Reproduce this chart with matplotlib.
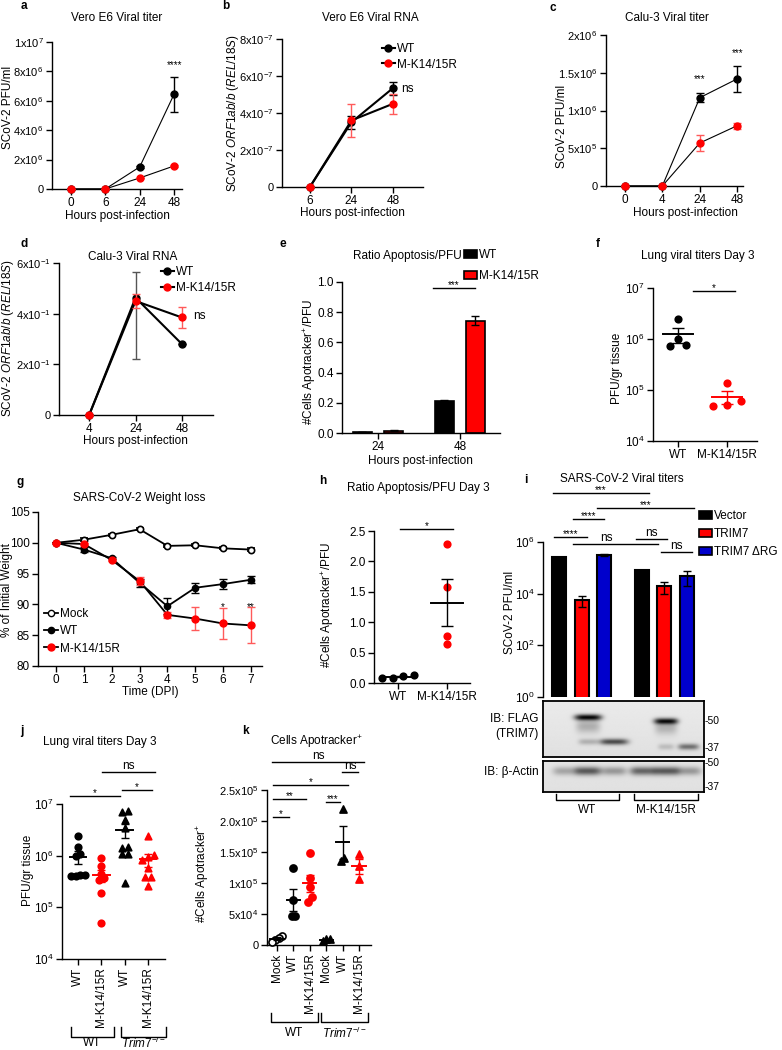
import numpy as np
import matplotlib
matplotlib.use("Agg")
import matplotlib.pyplot as plt
from matplotlib.patches import Patch
from matplotlib.lines import Line2D

plt.rcParams['font.family'] = ['Liberation Sans', 'DejaVu Sans']
plt.rcParams['mathtext.fontset'] = 'custom'
plt.rcParams['mathtext.rm'] = 'Liberation Sans'
plt.rcParams['mathtext.it'] = 'Liberation Sans:italic'
plt.rcParams['mathtext.bf'] = 'Liberation Sans:bold'
plt.rcParams['font.size'] = 8.5
plt.rcParams['axes.linewidth'] = 1.0

W, H = 782, 1050
FS = 8.5
SCI_FS = 8
RED = '#ff0000'
ERR_RED = '#ff5a5a'
BLUE = '#0000cc'

# ---- a: Vero E6 viral titer
a_hours = ['0', '6', '24', '48']
a_wt = [0, 0, 1.5e6, 6.45e6]
a_wt_err = [0, 0, 0.05e6, 1.2e6]
a_mk = [0, 0, 0.75e6, 1.57e6]
a_mk_err = [0, 0, 0.03e6, 0.05e6]
a_yticks = [0, 2e6, 4e6, 6e6, 8e6, 1e7]
a_yticklabels = ['0', '2x10$^{6}$', '4x10$^{6}$', '6x10$^{6}$', '8x10$^{6}$', '1x10$^{7}$']

# ---- b: Vero E6 viral RNA
b_hours = ['6', '24', '48']
b_wt = [0, 3.5e-7, 5.35e-7]
b_wt_err = [0, 0.35e-7, 0.35e-7]
b_mk = [0, 3.6e-7, 4.5e-7]
b_mk_err = [0, 0.9e-7, 0.55e-7]
b_yticks = [0, 2e-7, 4e-7, 6e-7, 8e-7]
b_yticklabels = ['0', '2x10$^{-7}$', '4x10$^{-7}$', '6x10$^{-7}$', '8x10$^{-7}$']

# ---- c: Calu-3 viral titer
c_hours = ['0', '4', '24', '48']
c_wt = [0, 0, 1.17e6, 1.42e6]
c_wt_err = [0, 0, 0.06e6, 0.17e6]
c_mk = [0, 0, 0.57e6, 0.80e6]
c_mk_err = [0, 0, 0.10e6, 0.04e6]
c_yticks = [0, 5e5, 1e6, 1.5e6, 2e6]
c_yticklabels = ['0', '5x10$^{5}$', '1x10$^{6}$', '1.5x10$^{6}$', '2x10$^{6}$']

# ---- d: Calu-3 viral RNA
d_hours = ['4', '24', '48']
d_wt = [0, 0.463, 0.28]
d_wt_err_low = [0, 0.24, 0]
d_wt_err_high = [0, 0.10, 0]
d_mk = [0, 0.45, 0.385]
d_mk_err = [0, 0.027, 0.04]
d_yticks = [0, 0.2, 0.4, 0.6]
d_yticklabels = ['0', '2x10$^{-1}$', '4x10$^{-1}$', '6x10$^{-1}$']

# ---- e: ratio apoptosis / PFU
e_hours = ['24', '48']
e_wt = [0.005, 0.215]
e_wt_err = [0.001, 0.004]
e_mk = [0.015, 0.745]
e_mk_err = [0.003, 0.03]

# ---- f: lung viral titers day 3
f_groups = ['WT', 'M-K14/15R']
f_wt = [2.5e6, 1.0e6, 7.5e5, 7.3e5]
f_mk = [1.4e5, 6.0e4, 5.0e4, 4.8e4]

# ---- g: weight loss
g_days = [0, 1, 2, 3, 4, 5, 6, 7]
g_mock = [100, 100.5, 101.3, 102.2, 99.5, 99.6, 99.1, 98.9]
g_mock_err = [0, 0.2, 0.15, 0.15, 0.2, 0.15, 0.15, 0.2]
g_wt = [100, 98.9, 97.5, 93.5, 89.7, 92.7, 93.3, 94.0]
g_wt_err = [0, 0.4, 0.2, 0.7, 1.3, 0.8, 0.8, 0.6]
g_mk = [100, 99.8, 97.2, 93.8, 88.3, 87.7, 86.9, 86.6]
g_mk_err = [0, 0.2, 0.2, 0.6, 0.5, 1.8, 2.5, 2.9]

# ---- h: ratio apoptosis / PFU day 3
h_groups = ['WT', 'M-K14/15R']
h_wt = [0.13, 0.11, 0.09, 0.08]
h_mk = [2.29, 1.58, 0.77, 0.64]

# ---- i: SARS-CoV-2 viral titers with TRIM7
i_conditions = ['Vector', 'TRIM7', 'TRIM7 ΔRG']
i_wt = [2.6e5, 5.5e3, 3.2e5]
i_wt_err = [0.1e5, 2.5e3, 0.3e5]
i_mk = [7.9e4, 1.9e4, 4.8e4]
i_mk_err = [0.3e4, 0.9e4, 2.8e4]

# blot band intensities (lanes: WT vec, TRIM7, dRG, MK vec, TRIM7, dRG)
blot_lanes = [0.14, 0.28, 0.44, 0.62, 0.765, 0.905]
flag_band_lane = [1, 4, 2, 5, 1, 4]
flag_band_row = [0.29, 0.36, 0.73, 0.82, 0.73, 0.82]
flag_band_dark = [0.85, 0.8, 0.6, 0.45, 0.2, 0.15]
flag_band_half = [0.085, 0.075, 0.09, 0.065, 0.06, 0.05]
actin_dark = [0.25, 0.55, 0.3, 0.5, 0.55, 0.3]

# ---- j: lung viral titers, WT vs Trim7-/- mice
j_labels = ['WT', 'M-K14/15R', 'WT', 'M-K14/15R']
j_wt_wt = [2.4e6, 1.5e6, 1.1e6, 1.0e6, 4.2e5, 4.1e5, 4.1e5, 4.2e5]
j_wt_mk = [8.9e5, 6.2e5, 4.5e5, 3.7e5, 3.4e5, 1.9e5, 4.9e4]
j_ko_wt = [7.4e6, 6.9e6, 5.0e6, 3.4e6, 1.5e6, 1.4e6, 1.1e6, 1.1e6, 2.9e5]
j_ko_mk = [2.4e6, 1.04e6, 9.4e5, 8.3e5, 5.7e5, 3.8e5, 3.8e5, 2.6e5]

# ---- k: cells apotracker+
k_labels = ['Mock', 'WT', 'M-K14/15R', 'Mock', 'WT', 'M-K14/15R']
k_wt_mock = [1.5e4, 1.2e4, 0.8e4, 0.5e4]
k_wt_wt = [1.24e5, 7.3e4, 4.6e4, 4.7e4]
k_wt_mk = [1.48e5, 1.08e5, 9.3e4, 7.8e4, 7.0e4]
k_ko_mock = [1.0e4, 0.9e4, 0.7e4]
k_ko_wt = [2.19e5, 1.41e5, 1.36e5]
k_ko_mk = [1.47e5, 1.28e5, 1.06e5]
k_yticks = [0, 5e4, 1e5, 1.5e5, 2e5, 2.5e5]
k_yticklabels = ['0', '5x10$^{4}$', '1x10$^{5}$', '1.5x10$^{5}$', '2.0x10$^{5}$', '2.5x10$^{5}$']


fig = plt.figure(figsize=(W / 100, H / 100), dpi=100)


def add_ax(l, t, r, b):
    ax = fig.add_axes([l / W, 1 - b / H, (r - l) / W, (b - t) / H])
    ax.spines[['top', 'right']].set_visible(False)
    ax.tick_params(labelsize=FS, length=4, width=1, pad=2)
    return ax


def ftext(x, y, s, **kw):
    kw.setdefault('ha', 'center')
    kw.setdefault('va', 'center')
    kw.setdefault('fontsize', FS)
    fig.text(x / W, 1 - y / H, s, **kw)


def fline(xs, ys, lw=1.0):
    fig.add_artist(Line2D([x / W for x in xs], [1 - y / H for y in ys], color='black', lw=lw))


def bracket(x0, x1, ytop, ybot, label, ylab):
    fline([x0, x0, x1, x1], [ytop, ybot, ybot, ytop])
    ftext((x0 + x1) / 2, ylab, label)


def noclip(cont):
    for art in cont.get_children():
        art.set_clip_on(False)


def sig(ax, x0, x1, y, label, size=7, off=-1.5):
    ax.plot([x0, x1], [y, y], color='black', lw=1, clip_on=False)
    ax.annotate(label, xy=((x0 + x1) / 2, y), xytext=(0, off), textcoords='offset points',
                ha='center', va='bottom', fontsize=size, annotation_clip=False)


def line_series(ax, x, wt, wt_err, mk, mk_err, lw):
    ax.plot(x, wt, color='black', lw=lw, zorder=2, clip_on=False)
    ax.plot(x, mk, color='black', lw=lw, zorder=2, clip_on=False)
    noclip(ax.errorbar(x, wt, yerr=wt_err, fmt='o', color='black', ms=5, capsize=3,
                       elinewidth=1, zorder=3))
    noclip(ax.errorbar(x, mk, yerr=mk_err, fmt='o', color=RED, ecolor=ERR_RED, ms=5,
                       capsize=3, elinewidth=1, zorder=4))


def swarm(key, tol, step):
    key = np.asarray(key, dtype=float)
    order = np.argsort(key)
    off = np.zeros(len(key))
    groups = [[order[0]]]
    for i in order[1:]:
        if key[i] - key[groups[-1][-1]] < tol:
            groups[-1].append(i)
        else:
            groups.append([i])
    for g in groups:
        n = len(g)
        off[g] = (np.arange(n) - (n - 1) / 2) * step
    return off


def dots(ax, x, vals, color, marker='o', log=False, open_=False, s=22, tol=0.1, step=0.22,
         half=0.32, cap=3, ecolor=None):
    vals = np.asarray(vals, dtype=float)
    key = np.log10(vals) if log else vals
    off = swarm(key, tol, step)
    ax.scatter(x + off, vals, s=s, marker=marker, facecolors='white' if open_ else color,
               edgecolors=color, linewidths=1.2, zorder=3, clip_on=False)
    mean = vals.mean()
    sem = vals.std(ddof=1) / np.sqrt(len(vals))
    ec = ecolor or color
    ax.plot([x - half, x + half], [mean, mean], color=ec, lw=1.4, zorder=4)
    ax.errorbar([x], [mean], yerr=[sem], fmt='none', ecolor=ec, capsize=cap, elinewidth=1,
                capthick=1, zorder=4)


wt_handle = Line2D([], [], color='black', lw=1.5, marker='o', ms=5, mfc='black', mec='black')
mk_handle = Line2D([], [], color='black', lw=1.5, marker='o', ms=5, mfc=RED, mec=RED)


def fig_legend(ax, handles, labels, x, y, spacing, hl=1.2):
    ax.legend(handles, labels, loc='upper left', bbox_to_anchor=(x / W, 1 - y / H),
              bbox_transform=fig.transFigure, frameon=False, fontsize=FS, borderpad=0,
              handlelength=hl, handletextpad=0.15, labelspacing=spacing, borderaxespad=0)


# ================= a
ax = add_ax(52, 42, 182, 189)
x = np.arange(len(a_hours))
line_series(ax, x, a_wt, a_wt_err, a_mk, a_mk_err, lw=0.8)
ax.set_xlim(-0.55, 3.23)
ax.set_ylim(0, 1e7)
ax.set_xticks(x, a_hours)
ax.set_yticks(a_yticks, a_yticklabels)
ax.tick_params(axis='y', labelsize=SCI_FS)
ax.annotate('****', xy=(3, 8.4e6), ha='center', va='center', fontsize=7)
ftext(24, 6, 'a', fontweight='bold')
ftext(117, 18, 'Vero E6 Viral titer')
ftext(117, 216, 'Hours post-infection')
ftext(8, 107, 'SCoV-2 PFU/ml', rotation=90)

# ================= b
ax = add_ax(282, 39, 423, 187)
x = np.arange(len(b_hours))
line_series(ax, x, b_wt, b_wt_err, b_mk, b_mk_err, lw=1.5)
ax.set_xlim(-0.67, 2.72)
ax.set_ylim(0, 8e-7)
ax.set_xticks(x, b_hours)
ax.set_yticks(b_yticks, b_yticklabels)
ax.tick_params(axis='y', labelsize=SCI_FS)
ax.text(2.2, 5.3e-7, 'ns', ha='left', va='center', fontsize=FS)
fig_legend(ax, [wt_handle, mk_handle], ['WT', 'M-K14/15R'], 382, 43, 0.3, hl=1.1)
ftext(226, 6, 'b', fontweight='bold')
ftext(370, 18, 'Vero E6 Viral RNA')
ftext(352, 213, 'Hours post-infection')
ftext(233, 113, 'SCoV-2 $\\it{ORF1ab/b}$ ($\\it{REL/18S}$)', rotation=90)

# ================= c
ax = add_ax(606, 35, 743, 186)
x = np.arange(len(c_hours))
line_series(ax, x, c_wt, c_wt_err, c_mk, c_mk_err, lw=0.8)
ax.set_xlim(-0.5, 3.15)
ax.set_ylim(0, 2e6)
ax.set_xticks(x, c_hours)
ax.set_yticks(c_yticks, c_yticklabels)
ax.tick_params(axis='y', labelsize=SCI_FS)
ax.annotate('***', xy=(2, 1.42e6), ha='center', va='center', fontsize=7)
ax.annotate('***', xy=(3, 1.76e6), ha='center', va='center', fontsize=7)
ftext(553, 8, 'c', fontweight='bold')
ftext(667, 18, 'Calu-3 Viral titer')
ftext(685, 213, 'Hours post-infection')
ftext(562, 126, 'SCoV-2 PFU/ml', rotation=90)

# ================= d
ax = add_ax(59, 263, 213, 415)
x = np.arange(len(d_hours))
ax.plot(x, d_wt, color='black', lw=1.5, zorder=2, clip_on=False)
ax.plot(x, d_mk, color='black', lw=1.5, zorder=2, clip_on=False)
noclip(ax.errorbar(x, d_wt, yerr=[d_wt_err_low, d_wt_err_high], fmt='o', color='black', ecolor='#555555',
                   ms=5, capsize=3, elinewidth=1, zorder=3))
noclip(ax.errorbar(x, d_mk, yerr=d_mk_err, fmt='o', color=RED, ecolor=ERR_RED, ms=5, capsize=3,
                   elinewidth=1, zorder=4))
ax.set_xlim(-0.65, 2.67)
ax.set_ylim(0, 0.6)
ax.set_xticks(x, d_hours)
ax.set_yticks(d_yticks, d_yticklabels)
ax.tick_params(axis='y', labelsize=SCI_FS)
ax.text(2.25, 0.39, 'ns', ha='left', va='center', fontsize=FS)
fig_legend(ax, [wt_handle, mk_handle], ['WT', 'M-K14/15R'], 161, 266, 0.35, hl=1.1)
ftext(24, 244, 'd', fontweight='bold')
ftext(133, 257, 'Calu-3 Viral RNA')
ftext(135, 441, 'Hours post-infection')
ftext(8, 338, 'SCoV-2 $\\it{ORF1ab/b}$ ($\\it{REL/18S}$)', rotation=90)

# ================= e
ax = add_ax(342, 282, 500, 433)
x = np.arange(len(e_hours))
off, bw = 0.19, 0.23
ax.bar(x - off, e_wt, bw, color='black', edgecolor='black', lw=1.2,
       yerr=e_wt_err, capsize=3, error_kw=dict(elinewidth=1, capthick=1))
ax.bar(x + off, e_mk, bw, color=RED, edgecolor='black', lw=1.2,
       yerr=e_mk_err, capsize=3, error_kw=dict(elinewidth=1, capthick=1))
ax.set_xlim(-0.44, 1.49)
ax.set_ylim(0, 1.0)
ax.set_xticks(x, e_hours)
ax.set_yticks([0, 0.2, 0.4, 0.6, 0.8, 1.0], ['0.0', '0.2', '0.4', '0.6', '0.8', '1.0'])
sig(ax, 0.67, 1.18, 0.96, '***')
fig_legend(ax, [Patch(facecolor='black', edgecolor='black', lw=1.2),
                Patch(facecolor=RED, edgecolor='black', lw=1.2)],
           ['WT', 'M-K14/15R'], 464, 249, 0.75, hl=1.1)
ftext(283, 244, 'e', fontweight='bold')
ftext(407, 256, 'Ratio Apoptosis/PFU')
ftext(420, 461, 'Hours post-infection')
ftext(310, 362, '#Cells Apotracker$^{+}$/PFU', rotation=90)

# ================= f
ax = add_ax(653, 288, 757, 441)
ax.set_yscale('log')
dots(ax, 0, f_wt, 'black', log=True, tol=0.1, step=0.33, half=0.3, cap=4)
dots(ax, 1, f_mk, RED, log=True, tol=0.1, step=0.28, half=0.3, cap=4, ecolor=RED)
ax.set_xlim(-0.51, 1.61)
ax.set_ylim(1e4, 1e7)
ax.set_xticks([0, 1], f_groups)
ax.set_yticks([1e4, 1e5, 1e6, 1e7], ['10$^{4}$', '10$^{5}$', '10$^{6}$', '10$^{7}$'])
ax.yaxis.set_minor_locator(matplotlib.ticker.NullLocator())
sig(ax, 0.31, 1.16, 8.7e6, '*')
ftext(598, 244, 'f', fontweight='bold')
ftext(698, 256, 'Lung viral titers Day 3')
ftext(617, 368, 'PFU/gr tissue', rotation=90)

# ================= g
ax = add_ax(38, 512, 262, 666)
ax.plot(g_days, g_mock, color='black', lw=1.3, zorder=2)
ax.plot(g_days, g_wt, color='black', lw=1.3, zorder=2)
ax.plot(g_days, g_mk, color='black', lw=1.3, zorder=2)
noclip(ax.errorbar(g_days, g_mock, yerr=g_mock_err, fmt='o', color='black', mfc='white', mew=1.2,
                   ms=4.5, capsize=3, elinewidth=1, zorder=3))
noclip(ax.errorbar(g_days, g_wt, yerr=g_wt_err, fmt='o', color='black', ms=4.5, capsize=3,
                   elinewidth=1, zorder=3))
noclip(ax.errorbar(g_days, g_mk, yerr=g_mk_err, fmt='o', color=RED, ecolor=ERR_RED, ms=5,
                   capsize=3, elinewidth=1, zorder=4))
ax.set_xlim(-0.65, 7.4)
ax.set_ylim(80, 105)
ax.set_xticks(g_days)
ax.set_yticks([80, 85, 90, 95, 100, 105])
ax.annotate('*', xy=(6, 89.6), ha='center', va='center', fontsize=7)
ax.annotate('**', xy=(7, 89.6), ha='center', va='center', fontsize=7)
mock_handle = Line2D([], [], color='black', lw=1.3, marker='o', ms=4.5, mfc='white', mec='black')
g_wt_handle = Line2D([], [], color='black', lw=1.3, marker='o', ms=4.5, mfc='black', mec='black')
g_mk_handle = Line2D([], [], color='black', lw=1.3, marker='o', ms=5, mfc=RED, mec=RED)
fig_legend(ax, [mock_handle, g_wt_handle, g_mk_handle], ['Mock', 'WT', 'M-K14/15R'], 44, 608, 0.45, hl=1.2)
ftext(20, 482, 'g', fontweight='bold')
ftext(139, 498, 'SARS-CoV-2 Weight loss')
ftext(150, 692, 'Time (DPI)')
ftext(7, 590, '% of Initial Weight', rotation=90)

# ================= h
ax = add_ax(374, 531, 470, 683)
dots(ax, 0, h_wt, 'black', tol=0.1, step=0.22, half=0.32, cap=4)
dots(ax, 1, h_mk, RED, tol=0.1, step=0.22, half=0.32, cap=4, ecolor='black')
ax.set_xlim(-0.49, 1.47)
ax.set_ylim(0, 2.5)
ax.set_xticks([0, 1], h_groups)
ax.set_yticks([0, 0.5, 1.0, 1.5, 2.0, 2.5], ['0.0', '0.5', '1.0', '1.5', '2.0', '2.5'])
sig(ax, 0.04, 1.12, 2.54, '*')
ftext(323, 481, 'h', fontweight='bold')
ftext(418, 488, 'Ratio Apoptosis/PFU Day 3')
ftext(328, 605, '#Cells Apotracker$^{+}$/PFU', rotation=90)

# ================= i
ax = add_ax(543, 542, 700, 697)
ax.set_yscale('log')
colors = ['black', RED, BLUE]
gap = 3.65
for k in range(3):
    ax.bar([k, k + gap], [i_wt[k], i_mk[k]], 0.62, color=colors[k], edgecolor='black', lw=1.5,
           yerr=[i_wt_err[k], i_mk_err[k]], capsize=3, error_kw=dict(elinewidth=1, capthick=1))
ax.set_xlim(-0.71, 6.23)
ax.set_ylim(1, 1e6)
ax.set_xticks([])
ax.set_yticks([1, 1e2, 1e4, 1e6], ['10$^{0}$', '10$^{2}$', '10$^{4}$', '10$^{6}$'])
ax.yaxis.set_minor_locator(matplotlib.ticker.NullLocator())
ax.spines['bottom'].set_visible(False)
sig(ax, -0.27, 3.96, 10 ** 7.9, '***')
sig(ax, 1.69, 5.96, 10 ** 7.32, '***')
sig(ax, 0.62, 2.0, 10 ** 6.89, '****')
sig(ax, -0.22, 1.24, 10 ** 6.19, '****')
sig(ax, 0.62, 4.36, 10 ** 5.92, '')
sig(ax, 3.38, 4.76, 10 ** 6.12, 'ns', size=FS, off=0)
sig(ax, 4.49, 5.87, 10 ** 5.61, 'ns', size=FS, off=0)
ax.annotate('ns', xy=(2.09, 10 ** 5.92), xytext=(0, 0), textcoords='offset points',
            ha='center', va='bottom', fontsize=FS, annotation_clip=False)
fig_legend(ax, [Patch(facecolor=c, edgecolor='black', lw=1.2) for c in colors],
           i_conditions, 699, 510, 0.5, hl=1.1)
ftext(526, 480, 'i', fontweight='bold')
ftext(622, 479, 'SARS-CoV-2 Viral titers')
ftext(510, 612, 'SCoV-2 PFU/ml', rotation=90)


def blot_image(rows, lanes, band_lane, band_row, band_dark, band_half, thick):
    yy, xx = np.mgrid[0:1:rows * 1j, 0:1:340j]
    img = np.full(xx.shape, 0.9) - 0.02 * yy
    for ln, r, d, hw in zip(band_lane, band_row, band_dark, band_half):
        xc = lanes[ln]
        img -= d * np.exp(-((xx - xc) / hw) ** 4) * np.exp(-((yy - r) / thick) ** 2)
    return np.clip(img, 0, 1)


# FLAG blot
bax = fig.add_axes([543 / W, 1 - 757 / H, (704 - 543) / W, (757 - 701) / H])
img = blot_image(120, blot_lanes, flag_band_lane, flag_band_row, flag_band_dark, flag_band_half, 0.055)
smear = blot_image(120, blot_lanes, [1, 4], [0.45, 0.48], [0.22, 0.2], [0.075, 0.07], 0.12)
img = np.clip(img + smear - 0.88, 0, 1)
bax.imshow(img, cmap='gray', vmin=0, vmax=1, aspect='auto', extent=(0, 1, 1, 0))
bax.set_xticks([])
bax.set_yticks([])
for sp in bax.spines.values():
    sp.set_linewidth(1.3)

aax = fig.add_axes([543 / W, 1 - 792 / H, (704 - 543) / W, (792 - 761) / H])
img = blot_image(70, blot_lanes, range(6), [0.32] * 6, actin_dark, [0.08] * 6, 0.14)
aax.imshow(img, cmap='gray', vmin=0, vmax=1, aspect='auto', extent=(0, 1, 1, 0))
aax.set_xticks([])
aax.set_yticks([])
for sp in aax.spines.values():
    sp.set_linewidth(1.3)

ftext(539, 719, 'IB: FLAG', ha='right')
ftext(539, 734, '(TRIM7)', ha='right')
ftext(539, 772, 'IB: β-Actin', ha='right')
for yv, lab in [(721, '-50'), (748, '-37'), (763, '-50'), (787, '-37')]:
    ftext(705, yv, lab, ha='left', fontsize=7.5)
bracket(556, 619, 794, 800, 'WT', 810)
bracket(634, 698, 794, 800, 'M-K14/15R', 810)

# ================= j
ax = add_ax(62, 804, 165, 959)
ax.set_yscale('log')
dots(ax, 0, j_wt_wt, 'black', log=True, tol=0.06, step=0.2, half=0.36, cap=3)
dots(ax, 1, j_wt_mk, RED, log=True, tol=0.06, step=0.2, half=0.36, cap=3, ecolor=RED)
dots(ax, 2, j_ko_wt, 'black', marker='^', log=True, tol=0.06, step=0.25, half=0.36, cap=3)
dots(ax, 3, j_ko_mk, RED, marker='^', log=True, tol=0.06, step=0.25, half=0.36, cap=3, ecolor=RED)
ax.set_xlim(-0.69, 3.73)
ax.set_ylim(1e4, 1e7)
ax.set_xticks(range(4), j_labels, rotation=90)
ax.set_yticks([1e4, 1e5, 1e6, 1e7], ['10$^{4}$', '10$^{5}$', '10$^{6}$', '10$^{7}$'])
ax.yaxis.set_minor_locator(matplotlib.ticker.NullLocator())
sig(ax, -0.34, 1.8, 10 ** 7.16, '*')
sig(ax, 1.89, 3.18, 10 ** 7.27, '*')
sig(ax, 1.03, 3.3, 10 ** 7.62, 'ns', size=FS, off=0)
bracket(71, 114, 1027, 1037, 'WT', 1043)
bracket(121, 166, 1027, 1037, '$\\it{Trim7}^{-/-}$', 1043)
ftext(22, 731, 'j', fontweight='bold')
ftext(100, 742, 'Lung viral titers Day 3')
ftext(28, 870, 'PFU/gr tissue', rotation=90)

# ================= k
ax = add_ax(267, 790, 371, 945)
kw = dict(tol=9e3, step=0.22, half=0.4, cap=3, s=26)
dots(ax, 0, k_wt_mock, 'black', open_=True, **kw)
dots(ax, 1, k_wt_wt, 'black', **kw)
dots(ax, 2, k_wt_mk, RED, ecolor=RED, **kw)
dots(ax, 3, k_ko_mock, 'black', marker='^', **kw)
dots(ax, 4, k_ko_wt, 'black', marker='^', **kw)
dots(ax, 5, k_ko_mk, RED, marker='^', ecolor=RED, **kw)
ax.set_xlim(-0.61, 5.73)
ax.set_ylim(0, 2.5e5)
ax.set_xticks(range(6), k_labels, rotation=90)
ax.set_yticks(k_yticks, k_yticklabels)
ax.tick_params(axis='y', labelsize=SCI_FS)
sig(ax, -0.24, 0.73, 2.06e5, '*')
sig(ax, -0.24, 1.77, 2.35e5, '**')
sig(ax, -0.24, 4.33, 2.58e5, '*')
sig(ax, 2.99, 3.84, 2.31e5, '***')
sig(ax, 3.96, 4.94, 2.79e5, 'ns', size=FS, off=0)
sig(ax, -0.3, 5.3, 2.95e5, 'ns', size=FS, off=0)
bracket(271, 318, 1013, 1022, 'WT', 1033)
bracket(321, 368, 1013, 1022, '$\\it{Trim7}^{-/-}$', 1033)
ftext(245, 731, 'k', fontweight='bold')
ftext(316, 742, 'Cells Apotracker$^{+}$')
ftext(203, 873, '#Cells Apotracker$^{+}$', rotation=90)

fig.savefig('out.png', dpi=100, facecolor='white')
